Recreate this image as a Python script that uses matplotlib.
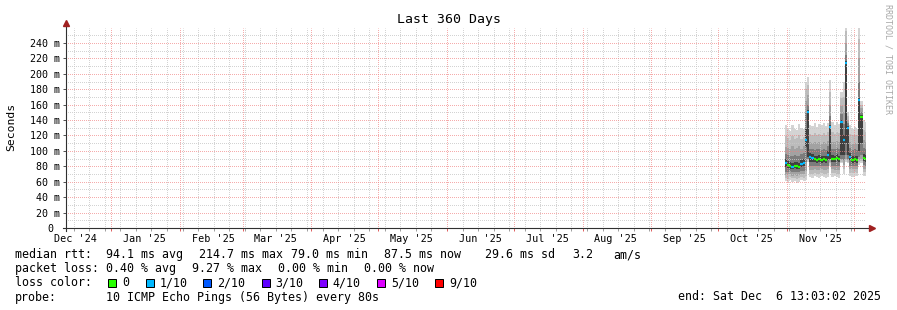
import numpy as np
import pandas as pd
import matplotlib
matplotlib.use('Agg')
import matplotlib.pyplot as plt
import matplotlib.dates as mdates
from matplotlib.ticker import MultipleLocator, NullFormatter
from matplotlib.patches import Rectangle
from matplotlib.transforms import blended_transform_factory

plt.rcParams['font.family'] = 'DejaVu Sans Mono'

W, H = 897, 310

# time window of the graph
t_start = pd.Timestamp('2024-12-11 13:03:02')
t_end = pd.Timestamp('2025-12-06 13:03:02')

# one sample per day, Oct 31 .. Dec 6 2025
days = pd.date_range('2025-10-31', periods=37, freq='D')

# the 10 sorted pings per day (ms), p1 = fastest, p10 = slowest
p1 = [61, 60, 62, 60, 61, 59, 60, 62, 61, 62, 86,
      66, 65, 67, 66, 65, 67, 66, 65, 66, 80,
      66, 67, 66, 65, 84, 70, 86, 84,
      67, 66, 68, 67, 82, 84, 68, 67]
p2 = [65, 64, 66, 65, 65, 64, 65, 66, 65, 68, 88,
      70, 70, 71, 70, 70, 71, 70, 70, 71, 84,
      71, 71, 70, 70, 86, 76, 88, 86,
      71, 71, 72, 71, 85, 87, 72, 72]
p3 = [69, 69, 70, 68, 69, 68, 69, 70, 70, 74, 89,
      75, 75, 76, 75, 75, 76, 75, 75, 76, 86,
      76, 75, 75, 75, 88, 82, 90, 88,
      76, 76, 77, 76, 88, 90, 77, 76]
p4 = [73, 73, 74, 72, 73, 72, 73, 74, 74, 85, 90,
      80, 80, 81, 80, 80, 81, 80, 80, 81, 88,
      81, 80, 80, 80, 90, 88, 95, 90,
      81, 80, 81, 81, 92, 95, 82, 81]
p5 = [79, 78, 77, 76, 78, 77, 76, 79, 80, 105, 92,
      86, 86, 85, 84, 86, 84, 85, 84, 88, 90,
      86, 85, 87, 85, 95, 95, 110, 95,
      88, 84, 85, 84, 100, 110, 87, 86]
median = [84, 82, 80, 79, 81, 80, 79, 83, 84, 114, 150,
          92, 91, 89, 88, 90, 88, 89, 88, 95, 131,
          90, 89, 91, 89, 138, 114, 214, 130,
          92, 88, 89, 88, 166, 144, 91, 90]
p6 = [89, 87, 85, 84, 86, 85, 84, 88, 90, 130, 153,
      97, 96, 94, 93, 95, 93, 94, 93, 100, 133,
      95, 94, 96, 94, 140, 120, 216, 132,
      97, 93, 94, 93, 168, 146, 96, 95]
p7 = [96, 95, 93, 94, 95, 93, 94, 96, 97, 150, 160,
      103, 102, 101, 102, 103, 101, 102, 101, 106, 145,
      103, 102, 104, 102, 148, 135, 225, 136,
      104, 101, 102, 101, 190, 150, 104, 103]
p8 = [105, 104, 102, 106, 103, 104, 107, 103, 106, 165, 172,
      111, 110, 112, 110, 111, 109, 112, 110, 113, 160,
      112, 111, 113, 111, 158, 150, 240, 140,
      112, 109, 110, 109, 220, 155, 114, 112]
p9 = [119, 117, 114, 119, 115, 117, 120, 116, 118, 180, 185,
      122, 121, 123, 120, 122, 121, 123, 120, 124, 176,
      124, 122, 125, 123, 168, 170, 255, 145,
      122, 120, 121, 120, 245, 160, 127, 125]
p10 = [134, 129, 126, 133, 128, 127, 135, 130, 128, 190, 196,
       134, 132, 136, 131, 135, 133, 136, 132, 136, 192,
       137, 134, 138, 135, 177, 190, 268, 150,
       133, 129, 131, 128, 265, 165, 140, 138]
# lost pings out of 10 per day
loss = [1, 0, 0, 1, 0, 0, 0, 1, 1, 1, 1,
        1, 1, 0, 0, 0, 0, 0, 0, 1, 1,
        0, 0, 0, 0, 1, 1, 1, 1,
        1, 0, 0, 0, 1, 0, 0, 0]

loss_levels = [0, 1, 2, 3, 4, 5, 9]
loss_labels = ['0', '1/10', '2/10', '3/10', '4/10', '5/10', '9/10']
loss_colors = ['#26ff00', '#00b8ff', '#0059ff', '#5e00ff', '#7e00ff', '#dd00ff', '#ff0000']
smoke_colors = ['#d4d4d4', '#bcbcbc', '#a2a2a2', '#7c7c7c', '#404040']

ytick_vals = [0, 20, 40, 60, 80, 100, 120, 140, 160, 180, 200, 220, 240]
ytick_labels = ['0 ', '20 m', '40 m', '60 m', '80 m', '100 m', '120 m', '140 m',
                '160 m', '180 m', '200 m', '220 m', '240 m']
month_labels = ["Dec '24", "Jan '25", "Feb '25", "Mar '25", "Apr '25", "May '25",
                "Jun '25", "Jul '25", "Aug '25", "Sep '25", "Oct '25", "Nov '25"]
month_label_dates = ['2024-12-16', '2025-01-16', '2025-02-16', '2025-03-16',
                     '2025-04-16', '2025-05-16', '2025-06-16', '2025-07-16',
                     '2025-08-16', '2025-09-16', '2025-10-16', '2025-11-16']

fig = plt.figure(figsize=(W / 100, H / 100), dpi=100)
fig.patch.set_facecolor('white')
ax = fig.add_axes([66 / W, 1 - 228 / H, 800 / W, 200 / H])
ax.set_xlim(mdates.date2num(t_start), mdates.date2num(t_end))
ax.set_ylim(0, 259.4)

# smoke: nested bands between ping pairs
edges = mdates.date2num(list(days) + [t_end])
lows = [p1, p2, p3, p4, p5]
highs = [p10, p9, p8, p7, p6]
for lo, hi, c in zip(lows, highs, smoke_colors):
    ax.fill_between(edges, np.append(lo, lo[-1]), np.append(hi, hi[-1]),
                    step='post', color=c, linewidth=0, zorder=1)

# median, coloured by loss
for i in range(len(days)):
    c = loss_colors[loss_levels.index(loss[i])]
    ax.plot([edges[i], edges[i + 1]], [median[i], median[i]], color=c,
            lw=1.6, solid_capstyle='butt', zorder=3)

# grid (drawn over the smoke, like rrdtool), 1px dots aligned to pixels
dots = (0.5, (1, 1))
ax.xaxis.set_major_locator(mdates.MonthLocator())
ax.xaxis.set_minor_locator(mdates.WeekdayLocator(byweekday=mdates.SU))
ax.xaxis.set_major_formatter(NullFormatter())
ax.xaxis.set_minor_formatter(NullFormatter())
ax.yaxis.set_minor_locator(MultipleLocator(10))
ax.set_yticks(ytick_vals, ytick_labels)
ax.set_axisbelow(False)
ax.grid(which='minor', color='#c8c8c8', lw=0.72, ls=dots, alpha=0.8)
ax.grid(which='major', color='#f08080', lw=0.72, ls=dots, alpha=0.65)
ax.tick_params(axis='y', which='major', length=2.2, width=0.72, color='#555555',
               labelsize=7.2, pad=2.0)
ax.tick_params(axis='y', which='minor', length=0)
ax.tick_params(axis='x', which='major', length=2.2, width=0.72, color='#e06060')
ax.tick_params(axis='x', which='minor', length=1.8, width=0.72, color='#a0a0a0')
for s in ax.spines.values():
    s.set_visible(False)

# axes with arrows
ax.plot([-3 / 800, 806 / 800], [0, 0], transform=ax.transAxes, color='#303030',
        lw=0.8, clip_on=False, zorder=4)
ax.plot([0, 0], [-3 / 200, 205 / 200], transform=ax.transAxes, color='#303030',
        lw=0.8, clip_on=False, zorder=4)
ax.plot([806 / 800], [0], marker='>', ms=4.2, color='#a02020', mec='#a02020',
        transform=ax.transAxes, clip_on=False, zorder=5)
ax.plot([0], [205 / 200], marker='^', ms=4.2, color='#a02020', mec='#a02020',
        transform=ax.transAxes, clip_on=False, zorder=5)

# month labels centred mid-month
tr = blended_transform_factory(ax.transData, fig.transFigure)
for lbl, d in zip(month_labels, month_label_dates):
    ax.text(mdates.date2num(pd.Timestamp(d)), 1 - 241.5 / H, lbl, transform=tr,
            ha='center', va='baseline', fontsize=7.3)

# title, axis label, watermark
fig.text(448.5 / W, 1 - 23 / H, 'Last 360 Days', ha='center', va='baseline', fontsize=9.5)
fig.text(11 / W, 1 - 127 / H, 'Seconds', rotation=90, ha='center', va='center', fontsize=8.2)
fig.text(888 / W, 1 - 59 / H, 'RRDTOOL / TOBI OETIKER', rotation=270, ha='center',
         va='center', fontsize=6, color='#a8a8a8')


def put(x, y, s, **kw):
    fig.text(x / W, 1 - y / H, s, va='baseline', fontsize=8.4, **kw)


for x, s in [(16, 'median rtt:'), (107, '94.1 ms avg'), (200, '214.7 ms max'),
             (292, '79.0 ms min'), (385, '87.5 ms now'), (486, '29.6 ms sd'),
             (573, '3.2'), (614, 'am/s')]:
    put(x - 1, 258, s)
for x, s in [(16, 'packet loss:'), (107, '0.40 % avg'), (193, '9.27 % max'),
             (279, '0.00 % min'), (365, '0.00 % now')]:
    put(x - 1, 272, s)
put(15, 286.5, 'loss color:')
box_x = [108, 146, 203, 262, 319, 377, 435]
label_x = [123, 160.7, 218, 276, 333, 392, 450]
for bx, lx, c, s in zip(box_x, label_x, loss_colors, loss_labels):
    fig.patches.append(Rectangle((bx / W, 1 - 286.5 / H), 8 / W, 8 / H,
                                 transform=fig.transFigure, facecolor=c,
                                 edgecolor='black', lw=0.72))
    put(lx - 1, 286.5, s)
put(15, 300.5, 'probe:')
put(106, 300.5, '10 ICMP Echo Pings (56 Bytes) every 80s')
put(881, 300.5, 'end: Sat Dec  6 13:03:02 2025', ha='right')

fig.savefig('out.png', dpi=100, facecolor='white')
